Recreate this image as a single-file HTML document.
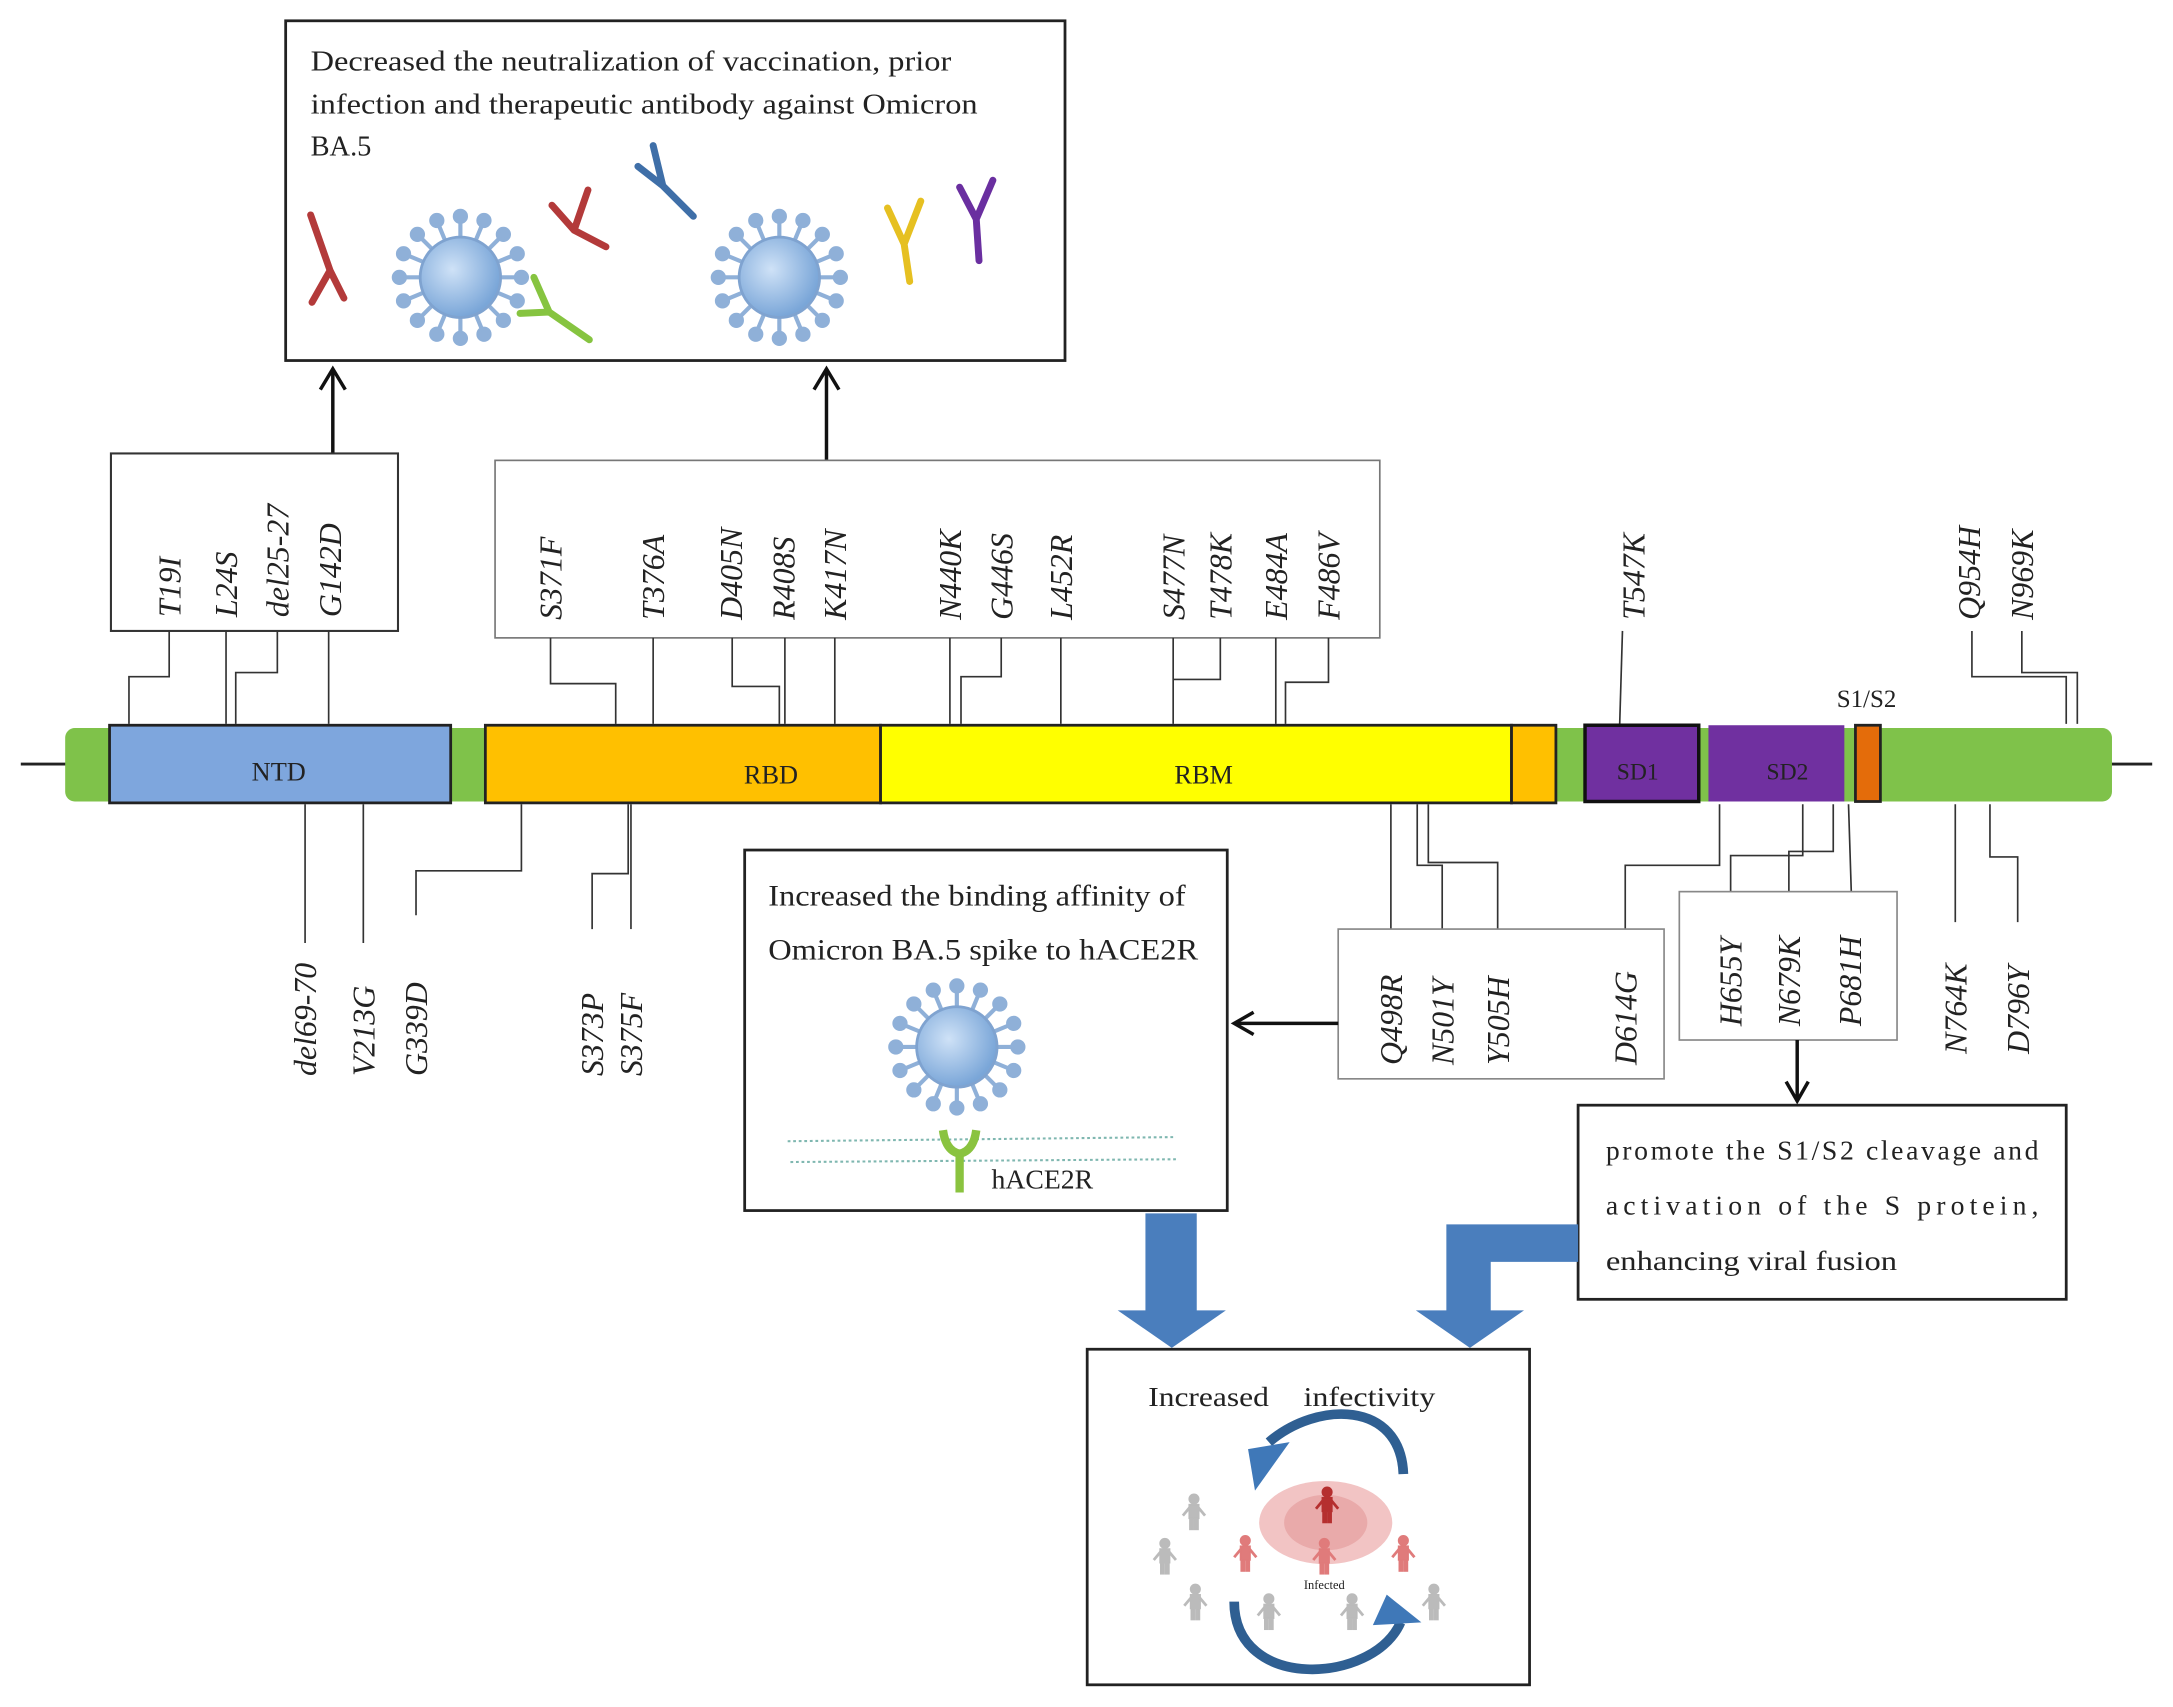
<!DOCTYPE html>
<html><head><meta charset="utf-8"><style>
html,body{margin:0;padding:0;background:#fff;}
svg{display:block;}
text{font-family:"Liberation Serif",serif;fill:#222;}
.m{font-style:italic;font-size:23px;}
</style></head><body>
<svg width="2173" height="1707" viewBox="0 0 1567 1231" preserveAspectRatio="none" xmlns="http://www.w3.org/2000/svg">
<defs>
<radialGradient id="vg" cx="40%" cy="40%" r="60%"><stop offset="0" stop-color="#cfe2f7"/><stop offset="1" stop-color="#7aa6d8"/></radialGradient>
<g id="virus">
<g stroke="#8fb0d8" stroke-width="3" fill="#8fb0d8">
<line x1="0" y1="-44" x2="0" y2="44"/><line x1="-44" y1="0" x2="44" y2="0"/>
<line x1="-31" y1="-31" x2="31" y2="31"/><line x1="-31" y1="31" x2="31" y2="-31"/>
<line x1="-17" y1="-41" x2="17" y2="41"/><line x1="-41" y1="-17" x2="41" y2="17"/>
<line x1="-17" y1="41" x2="17" y2="-41"/><line x1="-41" y1="17" x2="41" y2="-17"/>
<circle cx="0" cy="-44" r="4"/><circle cx="0" cy="44" r="4"/><circle cx="-44" cy="0" r="4"/><circle cx="44" cy="0" r="4"/>
<circle cx="-31" cy="-31" r="4"/><circle cx="31" cy="31" r="4"/><circle cx="-31" cy="31" r="4"/><circle cx="31" cy="-31" r="4"/>
<circle cx="-17" cy="-41" r="4"/><circle cx="17" cy="41" r="4"/><circle cx="-41" cy="-17" r="4"/><circle cx="41" cy="17" r="4"/>
<circle cx="-17" cy="41" r="4"/><circle cx="17" cy="-41" r="4"/><circle cx="-41" cy="17" r="4"/><circle cx="41" cy="-17" r="4"/>
</g>
<circle r="29" fill="url(#vg)" stroke="#7fa3d0" stroke-width="2"/>
</g>
<g id="person"><circle cx="0" cy="-9" r="3.5"/><rect x="-3.5" y="-5" width="7" height="10"/><rect x="-3" y="5" width="2.5" height="8"/><rect x="0.5" y="5" width="2.5" height="8"/><line x1="-3" y1="-3" x2="-8" y2="3" stroke-width="2"/><line x1="3" y1="-3" x2="8" y2="3" stroke-width="2"/></g>
</defs>

<rect x="206" y="15" width="562" height="245" fill="#fff" stroke="#222" stroke-width="2"/>
<text x="224" y="51" font-size="20.5" textLength="462" lengthAdjust="spacingAndGlyphs">Decreased the neutralization of vaccination, prior</text>
<text x="224" y="82" font-size="20.5" textLength="481" lengthAdjust="spacingAndGlyphs">infection and therapeutic antibody against Omicron</text>
<text x="224" y="112" font-size="20.5">BA.5</text>
<g stroke-width="5" stroke-linecap="round" fill="none">
<path d="M224 155 L238 195 L225 218 M238 195 L248 215" stroke="#b33a3a"/>
<path d="M398 148 L414 166 L437 178 M414 166 L424 137" stroke="#b33a3a"/>
<path d="M460 120 L478 134 L500 156 M478 134 L471 105" stroke="#3f6fa8"/>
<path d="M640 150 L652 176 L656 203 M652 176 L664 145" stroke="#e6c021"/>
<path d="M692 135 L704 158 L706 188 M704 158 L716 130" stroke="#6a2fa0"/>
<path d="M375 226 L396 225 L425 245 M396 225 L385 200" stroke="#86c440"/>
</g>
<use href="#virus" x="332" y="200"/>
<use href="#virus" x="562" y="200"/>

<g stroke="#111" stroke-width="2.5" fill="none">
<line x1="240" y1="327" x2="240" y2="268"/><path d="M231 281 L240 266 L249 281"/>
<line x1="596" y1="332" x2="596" y2="268"/><path d="M587 281 L596 266 L605 281"/>
</g>

<rect x="80" y="327" width="207" height="128" fill="#fff" stroke="#333" stroke-width="1.5"/>
<rect x="357" y="332" width="638" height="128" fill="#fff" stroke="#777" stroke-width="1.2"/>

<g class="m">
<text class="m" transform="translate(130,445) rotate(-90)">T19I</text>
<text class="m" transform="translate(171,445) rotate(-90)">L24S</text>
<text class="m" transform="translate(208,445) rotate(-90)">del25-27</text>
<text class="m" transform="translate(246,445) rotate(-90)">G142D</text>
<text class="m" transform="translate(405,447) rotate(-90)">S371F</text>
<text class="m" transform="translate(479,447) rotate(-90)">T376A</text>
<text class="m" transform="translate(535,447) rotate(-90)">D405N</text>
<text class="m" transform="translate(573,447) rotate(-90)">R408S</text>
<text class="m" transform="translate(610,447) rotate(-90)">K417N</text>
<text class="m" transform="translate(693,447) rotate(-90)">N440K</text>
<text class="m" transform="translate(730,447) rotate(-90)">G446S</text>
<text class="m" transform="translate(773,447) rotate(-90)">L452R</text>
<text class="m" transform="translate(854,447) rotate(-90)">S477N</text>
<text class="m" transform="translate(888,447) rotate(-90)">T478K</text>
<text class="m" transform="translate(928,447) rotate(-90)">E484A</text>
<text class="m" transform="translate(966,447) rotate(-90)">F486V</text>
<text class="m" transform="translate(1186,447) rotate(-90)">T547K</text>
<text class="m" transform="translate(1428,447) rotate(-90)">Q954H</text>
<text class="m" transform="translate(1466,447) rotate(-90)">N969K</text>

<text class="m" transform="translate(228,776) rotate(-90)">del69-70</text>
<text class="m" transform="translate(270,776) rotate(-90)">V213G</text>
<text class="m" transform="translate(308,776) rotate(-90)">G339D</text>
<text class="m" transform="translate(435,776) rotate(-90)">S373P</text>
<text class="m" transform="translate(463,776) rotate(-90)">S375F</text>
<text class="m" transform="translate(1011,768) rotate(-90)">Q498R</text>
<text class="m" transform="translate(1048,768) rotate(-90)">N501Y</text>
<text class="m" transform="translate(1088,768) rotate(-90)">Y505H</text>
<text class="m" transform="translate(1180,768) rotate(-90)">D614G</text>
<text class="m" transform="translate(1256,740) rotate(-90)">H655Y</text>
<text class="m" transform="translate(1298,740) rotate(-90)">N679K</text>
<text class="m" transform="translate(1342,740) rotate(-90)">P681H</text>
<text class="m" transform="translate(1418,760) rotate(-90)">N764K</text>
<text class="m" transform="translate(1463,760) rotate(-90)">D796Y</text>
</g>

<g stroke="#333" stroke-width="1.2" fill="none">
<path d="M122 455 V488 H93 V522"/>
<path d="M163 455 V522"/>
<path d="M200 455 V485 H170 V522"/>
<path d="M237 455 V522"/>
<path d="M397 460 V493 H444 V522"/>
<path d="M471 460 V522"/>
<path d="M528 460 V495 H562 V522"/>
<path d="M566 460 V522"/>
<path d="M602 460 V522"/>
<path d="M685 460 V522"/>
<path d="M722 460 V488 H693 V522"/>
<path d="M765 460 V522"/>
<path d="M846 460 V522"/>
<path d="M880 460 V490 H846"/>
<path d="M920 460 V522"/>
<path d="M958 460 V492 H927 V522"/>
<path d="M1170 455 L1168 522"/>
<path d="M1422 455 V488 H1490 V522"/>
<path d="M1458 455 V485 H1498 V522"/>
<path d="M220 580 V680"/>
<path d="M262 580 V680"/>
<path d="M300 660 V628 H376 V580"/>
<path d="M427 670 V630 H453 V580"/>
<path d="M455 580 V670"/>
<path d="M1003 580 V670"/>
<path d="M1040 670 V624 H1022 V580"/>
<path d="M1080 670 V622 H1030 V580"/>
<path d="M1172 670 V624 H1240 V580"/>
<path d="M1248 643 V617 H1300 V580"/>
<path d="M1290 643 V614 H1322 V580"/>
<path d="M1335 643 L1333 580"/>
<path d="M1410 580 V665"/>
<path d="M1435 580 V618 H1455 V665"/>
</g>

<line x1="15" y1="551" x2="50" y2="551" stroke="#222" stroke-width="2"/>
<line x1="1518" y1="551" x2="1552" y2="551" stroke="#222" stroke-width="2"/>
<rect x="47" y="525" width="1476" height="53" rx="7" fill="#7fc24a"/>
<rect x="79" y="523" width="246" height="56" fill="#7ea6dd" stroke="#222" stroke-width="2"/>
<rect x="350" y="523" width="285" height="56" fill="#ffc000" stroke="#222" stroke-width="2"/>
<rect x="635" y="523" width="455" height="56" fill="#ffff00" stroke="#222" stroke-width="2"/>
<rect x="1090" y="523" width="32" height="56" fill="#ffc000" stroke="#222" stroke-width="2"/>
<rect x="1143" y="523" width="82" height="55" fill="#7030a0" stroke="#111" stroke-width="2.5"/>
<rect x="1232" y="523" width="98" height="55" fill="#7030a0"/>
<rect x="1338" y="523" width="18" height="55" fill="#e46c0a" stroke="#222" stroke-width="2"/>
<text x="201" y="563" font-size="19" text-anchor="middle" fill="#1e2f5a">NTD</text>
<text x="556" y="565" font-size="19" text-anchor="middle" fill="#5a3a00">RBD</text>
<text x="868" y="565" font-size="19" text-anchor="middle" fill="#4a4a00">RBM</text>
<text x="1181" y="562" font-size="17" text-anchor="middle" fill="#2a0a40">SD1</text>
<text x="1289" y="562" font-size="17" text-anchor="middle" fill="#2a0a40">SD2</text>
<text x="1346" y="510" font-size="18" text-anchor="middle">S1/S2</text>

<rect x="965" y="670" width="235" height="108" fill="none" stroke="#888" stroke-width="1.2"/>
<rect x="1211" y="643" width="157" height="107" fill="none" stroke="#888" stroke-width="1.2"/>
<g stroke="#111" stroke-width="2.5" fill="none">
<line x1="965" y1="738" x2="892" y2="738"/><path d="M904 730 L890 738 L904 746"/>
<line x1="1296" y1="750" x2="1296" y2="792"/><path d="M1288 780 L1296 794 L1304 780"/>
</g>

<rect x="537" y="613" width="348" height="260" fill="#fff" stroke="#222" stroke-width="2"/>
<text x="554" y="653" font-size="21" textLength="301" lengthAdjust="spacingAndGlyphs">Increased the binding affinity of</text>
<text x="554" y="692" font-size="21" textLength="310" lengthAdjust="spacingAndGlyphs">Omicron BA.5 spike to hACE2R</text>
<line x1="568" y1="823" x2="848" y2="820" stroke="#7fb7b0" stroke-width="1.5" stroke-dasharray="2 2"/>
<line x1="570" y1="838" x2="848" y2="836" stroke="#7fb7b0" stroke-width="1.5" stroke-dasharray="2 2"/>
<use href="#virus" x="690" y="755"/>
<path d="M680 815 Q682 830 692 832 Q702 830 704 815 M692 832 V860" stroke="#8ac33f" stroke-width="6" fill="none"/>
<text x="715" y="857" font-size="20">hACE2R</text>

<rect x="1138" y="797" width="352" height="140" fill="#fff" stroke="#222" stroke-width="2"/>
<text x="1158" y="836" font-size="20" textLength="312" lengthAdjust="spacing">promote the S1/S2 cleavage and</text>
<text x="1158" y="876" font-size="20" textLength="312" lengthAdjust="spacing">activation of the S protein,</text>
<text x="1158" y="916" font-size="20" textLength="210" lengthAdjust="spacingAndGlyphs">enhancing viral fusion</text>

<g fill="#4a7ebd">
<path d="M826 875 H863 V945 H884 L845 972 L806 945 H826 Z"/>
<path d="M1138 883 H1043 V945 H1021 L1060 972 L1099 945 H1075 V910 H1138 Z"/>
</g>

<rect x="784" y="973" width="319" height="242" fill="#fff" stroke="#222" stroke-width="2"/>
<text x="828" y="1014" font-size="20" textLength="87" lengthAdjust="spacingAndGlyphs">Increased</text>
<text x="940" y="1014" font-size="20" textLength="95" lengthAdjust="spacingAndGlyphs">infectivity</text>
<ellipse cx="956" cy="1098" rx="48" ry="30" fill="#f2c4c4"/>
<ellipse cx="956" cy="1098" rx="30" ry="20" fill="#e9aaaa"/>
<path d="M1012 1063 C1010 1010 950 1010 915 1040" stroke="#2f5f92" stroke-width="7" fill="none"/>
<path d="M900 1045 L930 1040 L905 1075 Z" fill="#3f78b8"/>
<path d="M890 1155 C890 1220 990 1215 1010 1170" stroke="#2f5f92" stroke-width="7" fill="none"/>
<path d="M1000 1150 L1025 1170 L990 1172 Z" fill="#3f78b8"/>
<g fill="#b52f2f" stroke="#b52f2f"><use href="#person" x="957" y="1085"/></g>
<g fill="#e07b7b" stroke="#e07b7b"><use href="#person" x="898" y="1120"/><use href="#person" x="955" y="1122"/><use href="#person" x="1012" y="1120"/></g>
<g fill="#bbb" stroke="#bbb"><use href="#person" x="861" y="1090"/><use href="#person" x="840" y="1122"/><use href="#person" x="862" y="1155"/><use href="#person" x="915" y="1162"/><use href="#person" x="975" y="1162"/><use href="#person" x="1034" y="1155"/></g>
<text x="955" y="1146" font-size="9" fill="#d06060" text-anchor="middle" font-family="Liberation Sans,sans-serif">Infected</text>
</svg>
</body></html>
